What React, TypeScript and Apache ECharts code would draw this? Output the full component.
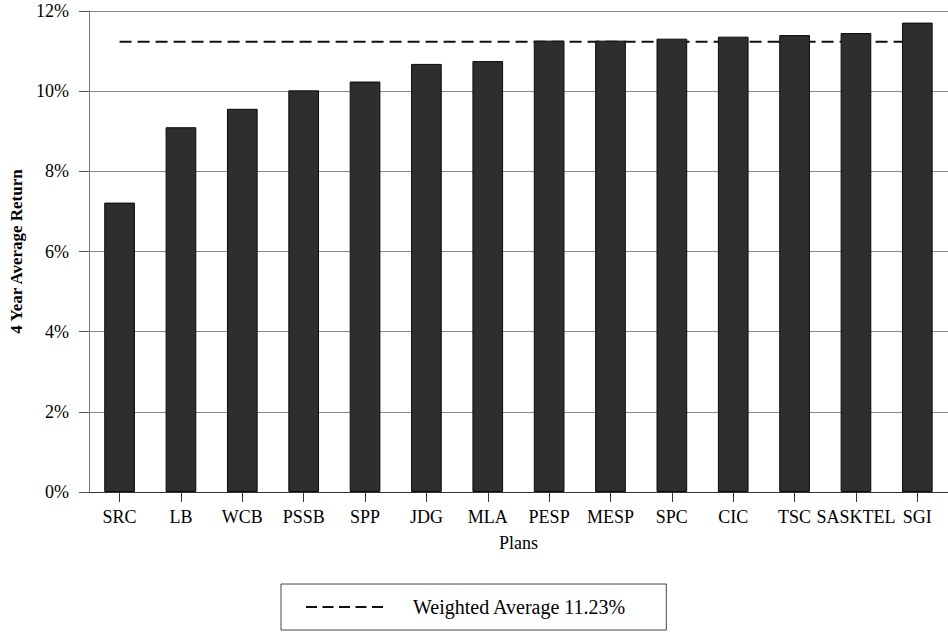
import React, { useEffect, useRef } from "react";
import * as echarts from "echarts";

const categories = ["SRC", "LB", "WCB", "PSSB", "SPP", "JDG", "MLA", "PESP", "MESP", "SPC", "CIC", "TSC", "SASKTEL", "SGI"];
const returns = [7.22, 9.1, 9.56, 10.02, 10.24, 10.68, 10.75, 11.26, 11.26, 11.31, 11.36, 11.4, 11.45, 11.71];
const weightedAverage = 11.23;
const yTicks = { min: 0, max: 12, interval: 2 };
const legendLabel = "Weighted Average 11.23%";

const FONT = "Liberation Serif";

export default function App() {
  const ref = useRef<HTMLDivElement>(null);
  useEffect(() => {
    if (!ref.current) return;
    const chart = echarts.init(ref.current, undefined, { renderer: "svg" });
    chart.setOption({
      animation: false,
      backgroundColor: "#ffffff",
      textStyle: { fontFamily: FONT },
      grid: { left: 88, top: 11, width: 864, height: 481, containLabel: false },
      legend: {
        data: [legendLabel],
        left: 281,
        top: 584,
        orient: "horizontal",
        padding: [11, 40, 11, 24],
        borderColor: "#444",
        borderWidth: 1,
        itemWidth: 77,
        itemHeight: 14,
        itemStyle: { color: "rgba(0,0,0,0)", borderColor: "rgba(0,0,0,0)", borderWidth: 0, opacity: 0 },
        lineStyle: { type: [11, 5.5], width: 2, color: "#111" },
        textStyle: { fontFamily: FONT, fontSize: 20, color: "#000", padding: [0, 0, 0, 25], lineHeight: 24 },
      },
      xAxis: {
        type: "category",
        data: categories,
        name: "Plans",
        nameLocation: "middle",
        nameGap: 42,
        nameTextStyle: { fontFamily: FONT, fontSize: 18, color: "#000" },
        axisLine: { show: true, lineStyle: { color: "#333", width: 1 } },
        axisTick: { show: true, alignWithLabel: true, length: 10, lineStyle: { color: "#333" } },
        axisLabel: { fontFamily: FONT, fontSize: 18, color: "#000", margin: 16, interval: 0 },
        splitLine: { show: false },
      },
      yAxis: {
        type: "value",
        min: yTicks.min,
        max: yTicks.max,
        interval: yTicks.interval,
        name: "4 Year Average Return",
        nameLocation: "middle",
        nameGap: 52,
        nameRotate: 90,
        nameTextStyle: { fontFamily: FONT, fontSize: 17, fontWeight: "bold", color: "#000" },
        axisLine: { show: true, lineStyle: { color: "#777", width: 1 } },
        axisTick: { show: true, length: 10, lineStyle: { color: "#555" } },
        axisLabel: { fontFamily: FONT, fontSize: 18, color: "#000", margin: 20, formatter: "{value}%" },
        splitLine: { show: true, lineStyle: { color: "#888", width: 1 } },
      },
      series: [
        {
          name: legendLabel,
          type: "line",
          data: categories.map(() => weightedAverage),
          symbol: "none",
          z: 2,
          lineStyle: { color: "#111", width: 2, type: [12, 6] },
          itemStyle: { color: "#111" },
        },
        {
          name: "4 Year Average Return",
          type: "bar",
          data: returns,
          barWidth: "50%",
          z: 3,
          itemStyle: { color: "#2e2e2e", borderColor: "#0a0a0a", borderWidth: 1 },
        },
      ],
    });
    return () => chart.dispose();
  }, []);
  return (
    <div
      ref={ref}
      style={{ position: "fixed", left: 0, top: 0, width: 948, height: 632, background: "#fff" }}
    />
  );
}
